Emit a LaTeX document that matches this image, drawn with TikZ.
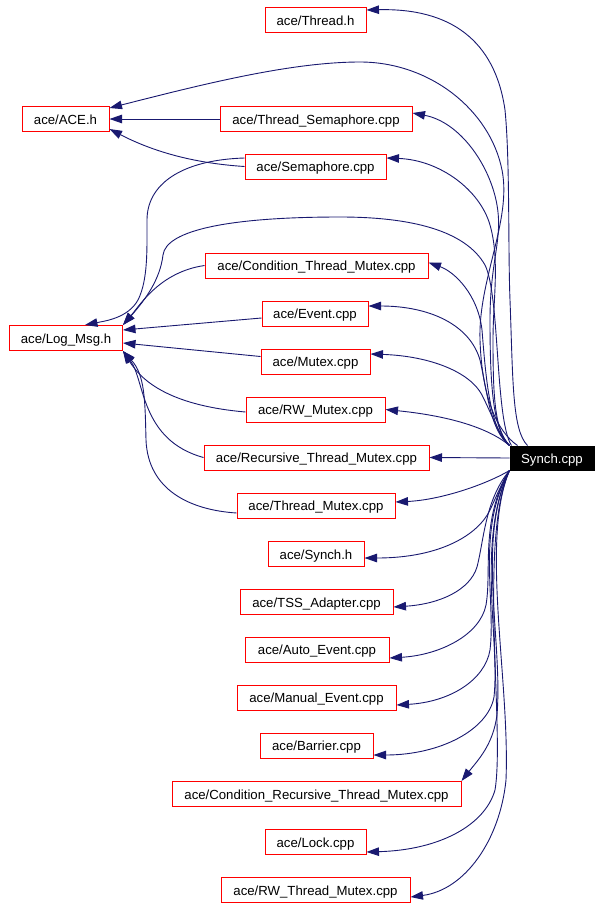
\documentclass[tikz,border=0pt]{standalone}
\usepackage{fontspec}
\setmainfont{Liberation Sans}
\usetikzlibrary{arrows.meta,calc}
\definecolor{edgeblue}{HTML}{191970}
\begin{document}
\begin{tikzpicture}[x=1pt,y=-1pt,
  box/.style={draw=red, line width=1pt, minimum height=25pt, inner sep=0pt, text height=10pt, text depth=0pt, font=\fontsize{13.2}{15}\selectfont, anchor=center},
  dep/.style={draw=edgeblue, line width=0.9pt, {Triangle[length=12.5pt,width=8.5pt]}-}]
\useasboundingbox[fill=white] (0,0) rectangle (602,908);

% nodes
\node[box, minimum width=101pt] (thread) at (315.5,20) {ace/Thread.h};
\node[box, minimum width=87pt] (ace) at (65.5,119) {ace/ACE.h};
\node[box, minimum width=192pt] (tsem) at (316,119) {ace/Thread\_Semaphore.cpp};
\node[box, minimum width=141pt] (sem) at (315.5,166.5) {ace/Semaphore.cpp};
\node[box, minimum width=223pt] (ctm) at (316.5,265.5) {ace/Condition\_Thread\_Mutex.cpp};
\node[box, minimum width=113pt] (logmsg) at (66,338) {ace/Log\_Msg.h};
\node[box, minimum width=106pt] (event) at (315,313.5) {ace/Event.cpp};
\node[box, minimum width=109pt] (mutex) at (315.5,361.5) {ace/Mutex.cpp};
\node[box, minimum width=139pt] (rwmutex) at (315.5,409.5) {ace/RW\_Mutex.cpp};
\node[box, minimum width=225pt] (rtm) at (316.5,457.5) {ace/Recursive\_Thread\_Mutex.cpp};
\node[box, minimum width=158pt] (tm) at (316,505.5) {ace/Thread\_Mutex.cpp};
\node[box, fill=black, draw=black, text=white, minimum width=84pt, minimum height=24pt] (synch) at (552,458) {Synch.cpp};
\node[box, minimum width=96pt] (synchh) at (316,554) {ace/Synch.h};
\node[box, minimum width=153pt] (tss) at (316.5,602) {ace/TSS\_Adapter.cpp};
\node[box, minimum width=144pt] (autoev) at (317,649.5) {ace/Auto\_Event.cpp};
\node[box, minimum width=159pt] (manev) at (316.5,697.5) {ace/Manual\_Event.cpp};
\node[box, minimum width=113pt] (barrier) at (316.5,745.5) {ace/Barrier.cpp};
\node[box, minimum width=289pt] (crtm) at (316.5,794) {ace/Condition\_Recursive\_Thread\_Mutex.cpp};
\node[box, minimum width=101pt] (lockf) at (315.5,842) {ace/Lock.cpp};
\node[box, minimum width=189pt] (rwtm) at (315.5,890) {ace/RW\_Thread\_Mutex.cpp};

% edges from Synch.cpp, upper bundle
\draw[dep] ($(thread.east)+(0,-10)$) .. controls (450,8) and (495,40) .. (505,110)
  .. controls (510,160) and (508,250) .. (510,300) .. controls (513,380) and (512,430) .. ($(synch.north west)+(18,0)$);
\draw[dep] ($(ace.east)+(0,-11)$) .. controls (200,85) and (290,62) .. (360,62)
  .. controls (430,62) and (490,110) .. (502,170) .. controls (512,220) and (478,280) .. (480,340)
  .. controls (482,400) and (498,432) .. ($(synch.north west)+(8,0)$);
\draw[dep] ($(tsem.east)+(0,-6)$) .. controls (460,122) and (490,165) .. (497,205)
  .. controls (503,240) and (490,260) .. (490,320) .. controls (490,400) and (495,430) .. (synch.north west);
\draw[dep] ($(sem.east)+(0,-8.5)$) .. controls (440,160) and (480,190) .. (490,225)
  .. controls (500,260) and (493,300) .. (493,340) .. controls (493,400) and (495,430) .. (synch.north west);
\draw[dep] (logmsg.north east) .. controls (145,300) and (160,280) .. (163,255)
  .. controls (166,230) and (230,217) .. (340,217) .. controls (410,217) and (465,230) .. (485,265)
  .. controls (500,295) and (495,420) .. ($(synch.north west)+(2,0)$);
\draw[dep] ($(ctm.east)+(0,-3)$) .. controls (455,272) and (478,295) .. (482,330)
  .. controls (486,380) and (490,430) .. (synch.north west);
\draw[dep] ($(event.east)+(0,-7.5)$) .. controls (430,306) and (470,325) .. (480,360)
  .. controls (488,395) and (490,430) .. (synch.north west);
\draw[dep] ($(mutex.east)+(0,-7.5)$) .. controls (430,356) and (470,372) .. (482,395)
  .. controls (492,415) and (500,437) .. (synch.north west);
\draw[dep] (rwmutex.east) .. controls (440,415) and (485,425) .. (synch.north west);
\draw[dep] (rtm.east) -- (synch.west);

% edges from Synch.cpp, lower bundle
\draw[dep] ($(tm.east)+(0,-3.5)$) .. controls (440,500) and (485,485) .. (synch.south west);
\draw[dep] ($(synchh.east)+(0,4)$) .. controls (440,558) and (478,535) .. (490,510)
  .. controls (497,495) and (503,480) .. (synch.south west);
\draw[dep] ($(tss.east)+(0,5)$) .. controls (440,604) and (470,590) .. (477,567)
  .. controls (484,540) and (485,500) .. (synch.south west);
\draw[dep] ($(autoev.east)+(0,8.5)$) .. controls (440,655) and (480,635) .. (486,605)
  .. controls (492,570) and (480,520) .. (synch.south west);
\draw[dep] ($(manev.east)+(0,7.5)$) .. controls (450,702) and (485,680) .. (490,650)
  .. controls (496,600) and (476,530) .. (synch.south west);
\draw[dep] ($(barrier.east)+(0,9.5)$) .. controls (440,755) and (488,730) .. (494,697)
  .. controls (500,640) and (476,540) .. (synch.south west);
\draw[dep] (crtm.north east) .. controls (478,760) and (493,745) .. (497,715)
  .. controls (503,640) and (476,540) .. (synch.south west);
\draw[dep] ($(lockf.east)+(0,10)$) .. controls (440,850) and (485,825) .. (495,790)
  .. controls (505,730) and (478,540) .. (synch.south west);
\draw[dep] ($(rwtm.east)+(0,7)$) .. controls (465,890) and (500,840) .. (506,780)
  .. controls (510,680) and (480,540) .. (synch.south west);

% edges into ACE.h
\draw[dep] (ace.east) -- (tsem.west);
\draw[dep] ($(ace.east)+(0,10)$) .. controls (150,150) and (190,163) .. (sem.west);

% edges into Log_Msg.h
\draw[dep] ($(logmsg.north)+(19,0)$) .. controls (105,321) and (128,318) .. (138,300)
  .. controls (148,280) and (147,250) .. (147,220) .. controls (147,185) and (180,160) .. ($(sem.west)+(0,-8.5)$);
\draw[dep] (logmsg.north east) .. controls (140,305) and (160,272) .. (ctm.west);
\draw[dep] ($(logmsg.east)+(0,-8)$) -- ($(event.west)+(0,4.5)$);
\draw[dep] ($(logmsg.east)+(0,5)$) -- ($(mutex.west)+(0,-5)$);
\draw[dep] (logmsg.south east) .. controls (140,378) and (165,405) .. ($(rwmutex.west)+(0,2.5)$);
\draw[dep] (logmsg.south east) .. controls (145,380) and (140,440) .. (rtm.west);
\draw[dep] (logmsg.south east) .. controls (145,375) and (145,400) .. (146,440)
  .. controls (148,490) and (190,510) .. ($(tm.west)+(0,7.5)$);
\end{tikzpicture}
\end{document}
